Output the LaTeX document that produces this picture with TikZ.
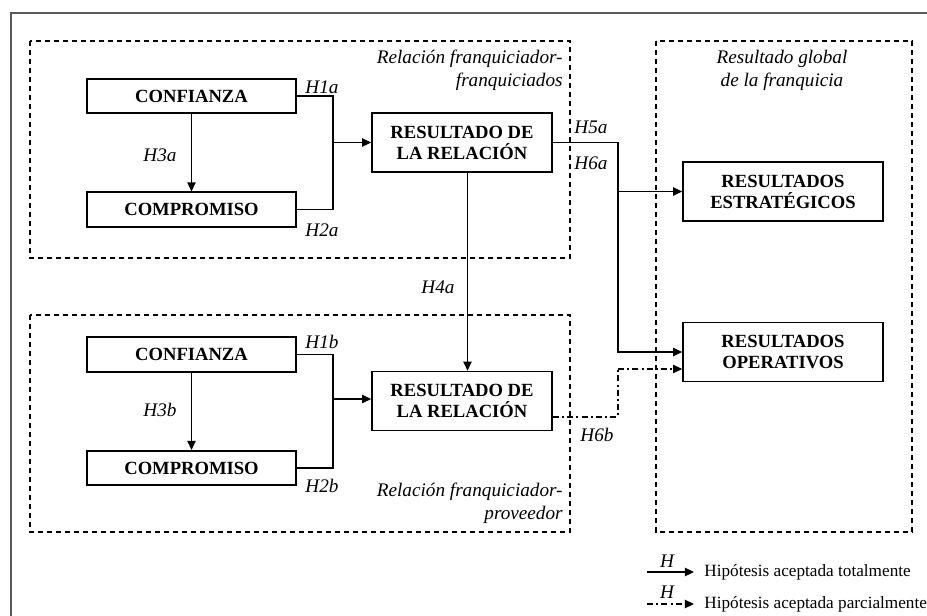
\documentclass[tikz,border=0pt]{standalone}
\usepackage{fontspec}
\setmainfont{Liberation Serif}
\usetikzlibrary{arrows.meta}

\begin{document}
\begin{tikzpicture}[x=0.5pt,y=-0.5pt,
    caja/.style={draw,line width=0.8pt,inner sep=0pt,align=center,
                 font=\bfseries\fontsize{9.3}{10.5}\selectfont},
    cajaA/.style={caja,minimum width=104.5pt,minimum height=17.25pt},
    cajaB/.style={caja,minimum width=90pt,minimum height=29.5pt},
    cajaC/.style={caja,minimum width=100pt,minimum height=29.5pt},
    grupo/.style={line width=0.65pt,dash pattern=on 2.6pt off 1.9pt},
    etiq/.style={inner sep=0pt,font=\itshape\fontsize{9.6}{11.5}\selectfont},
    linea/.style={line width=0.75pt},
    flecha/.style={linea,-{Triangle[length=4.6pt,width=4.2pt]}},
    parcial/.style={line width=0.7pt,dash pattern=on 3pt off 1.6pt on 1pt off 1.6pt}]
            \useasboundingbox (0,0) rectangle (927,616);
            \draw[line width=1pt,black!65] (11,616) -- (11,13) -- (927,13);
            % grupos
            \draw[grupo] (30,41) rectangle (570,258);
            \draw[grupo] (30,315) rectangle (570,532);
            \draw[grupo] (656,41) rectangle (912,532);
            \node[etiq,align=right,anchor=east] (g1) at (563,70.5)
                {Relación franquiciador-\\franquiciados};
            \node[etiq,align=right,anchor=east] (g2) at (563,503.5)
                {Relación franquiciador-\\proveedor};
            \node[etiq,align=center] (g3) at (782,70.5)
                {Resultado global\\de la franquicia};
            % cajas
            \node[cajaA] (conf1) at (191.5,96) {CONFIANZA};
            \node[cajaA] (comp1) at (191.5,209.5) {COMPROMISO};
            \node[cajaB] (res1) at (462,142.5) {RESULTADO DE\\LA RELACIÓN};
            \node[cajaA] (conf2) at (191.5,354.5) {CONFIANZA};
            \node[cajaA] (comp2) at (191.5,468) {COMPROMISO};
            \node[cajaB] (res2) at (462,401) {RESULTADO DE\\LA RELACIÓN};
            \node[cajaC] (estr) at (783,191.5) {RESULTADOS\\ESTRATÉGICOS};
            \node[cajaC] (oper) at (783,352) {RESULTADOS\\OPERATIVOS};
            % uniones
            \coordinate (j1) at (333,142.5);
            \coordinate (j2) at (333,399);
            \coordinate (j3) at (618,191.5);
            \coordinate (j4) at (618,352);
            \coordinate (j5) at (618,369);
            \draw[linea] (conf1.east) -| (j1) |- (comp1.east);
            \draw[flecha] (j1) -- (res1.west |- j1);
            \draw[flecha] (conf1) -- (comp1);
            \draw[linea] (conf2.east) -| (j2) |- (comp2.east);
            \draw[flecha] (j2) -- (res2.west |- j2);
            \draw[flecha] (conf2) -- (comp2);
            \draw[flecha] ([xshift=2.75pt]res1.south) -- ([xshift=2.75pt]res2.north);
            \draw[flecha] (res1.east) -| (j4) -- (oper.west);
            \draw[flecha] (j3) -- (estr.west);
            \begin{scope}[parcial]
            \draw ([yshift=-8pt]res2.east) -| (j5);
            \draw[-{Triangle[length=4.6pt,width=4.2pt]}] (j5) -- (oper.west |- j5);
            \end{scope}
            % hipotesis
            \node[etiq] (h1a) at (322,87) {H1a};
            \node[etiq] (h2a) at (322,230) {H2a};
            \node[etiq] (h3a) at (160,155) {H3a};
            \node[etiq] (h1b) at (322,342) {H1b};
            \node[etiq] (h2b) at (322,486) {H2b};
            \node[etiq] (h3b) at (160,410) {H3b};
            \node[etiq] (h4a) at (438,287) {H4a};
            \node[etiq] (h5a) at (591,127) {H5a};
            \node[etiq] (h6a) at (591,163) {H6a};
            \node[etiq] (h6b) at (597,435) {H6b};
            % leyenda
            \coordinate (l1a) at (647,572);
            \coordinate (l1b) at (694,572);
            \coordinate (l2a) at (647,604);
            \coordinate (l2b) at (694,604);
            \draw[flecha] (l1a) -- (l1b);
            \draw[parcial,-{Triangle[length=4.6pt,width=4.2pt]}] (l2a) -- (l2b);
            \node[etiq] (hl1) at (667,561) {H};
            \node[etiq] (hl2) at (667,592) {H};
            \node[anchor=west,inner sep=0pt,font=\fontsize{8.6}{10}\selectfont]
                (t1) at (704,572) {Hipótesis aceptada totalmente};
            \node[anchor=west,inner sep=0pt,font=\fontsize{8.6}{10}\selectfont]
                (t2) at (704,604) {Hipótesis aceptada parcialmente};
        \end{tikzpicture}
\end{document}
